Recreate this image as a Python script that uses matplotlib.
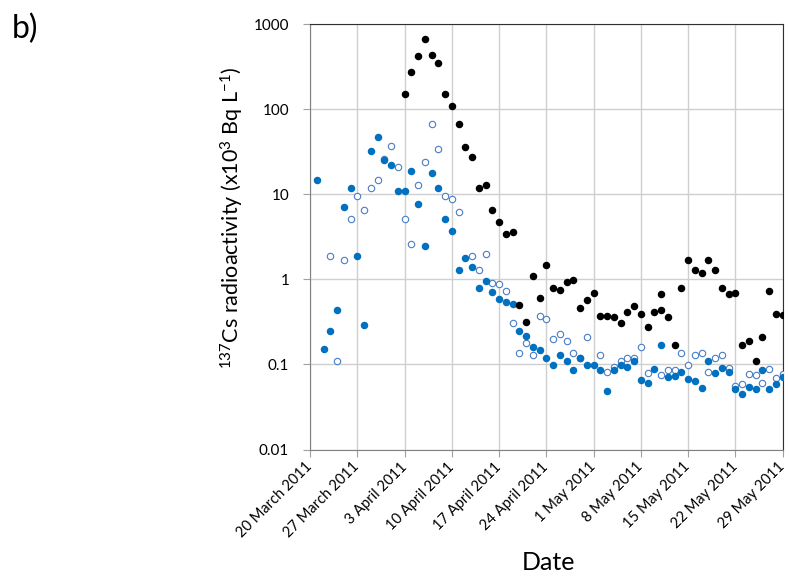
import numpy as np
import matplotlib
matplotlib.use("Agg")
import matplotlib.pyplot as plt
import matplotlib.dates as mdates
import datetime as dt

plt.rcParams['font.family'] = ['Lato', 'DejaVu Sans']

# day offsets from 20 March 2011
start = dt.datetime(2011, 3, 20)

black_days = [14, 15, 16, 17, 18, 19, 20, 21, 22, 23, 24, 25, 26, 27, 28, 29, 30,
              31, 32, 33, 34, 35, 36, 37, 38, 39, 40, 41, 42, 43, 44, 45, 46, 47,
              48, 49, 50, 51, 52, 52, 53, 54, 55, 56, 57, 58, 59, 60, 61, 62, 63,
              64, 65, 66, 67, 68, 69, 70]
black_vals = [151, 272, 424, 666, 438, 351, 151, 109, 67, 35.7, 27.7, 12.0, 13.0,
              6.5, 4.76, 3.41, 3.6, 0.50, 0.317, 1.09, 0.60, 1.49, 0.80, 0.75, 0.94,
              0.99, 0.456, 0.575, 0.70, 0.373, 0.373, 0.357, 0.306, 0.416, 0.489,
              0.391, 0.277, 0.416, 0.432, 0.678, 0.36, 0.169, 0.79, 1.69, 1.29, 1.19,
              1.69, 1.29, 0.80, 0.68, 0.70, 0.169, 0.188, 0.109, 0.209, 0.728,
              0.391, 0.377]

filled_days = list(range(1, 71))
filled_vals = [14.7, 0.151, 0.247, 0.435, 7.1, 12.0, 1.9, 0.29, 32, 47, 25.3, 21.9,
               10.9, 10.9, 19.0, 7.8, 2.48, 17.9, 12.0, 5.08, 3.7, 1.29, 1.8, 1.40,
               0.80, 0.955, 0.72, 0.59, 0.54, 0.51, 0.248, 0.219, 0.16, 0.149,
               0.119, 0.099, 0.129, 0.109, 0.087, 0.119, 0.099, 0.099, 0.086,
               0.0485, 0.085, 0.099, 0.094, 0.109, 0.065, 0.060, 0.088, 0.169,
               0.071, 0.073, 0.081, 0.067, 0.0637, 0.0526, 0.109, 0.079, 0.092,
               0.081, 0.051, 0.0448, 0.054, 0.051, 0.085, 0.051, 0.059, 0.072]

open_days = [3, 4, 5, 6, 7, 8, 9, 10, 11, 12, 13, 14, 15, 16, 17, 18, 19, 20, 21,
             22, 24, 25, 26, 27, 28, 29, 30, 31, 32, 33, 34, 35, 36, 37, 38, 39,
             40, 41, 43, 44, 45, 46, 47, 48, 49, 50, 52, 53, 54, 55, 56, 57, 58,
             59, 60, 61, 62, 63, 64, 65, 66, 67, 68, 69, 70]
open_vals = [1.9, 0.109, 1.69, 5.1, 9.7, 6.5, 12.0, 14.9, 26.2, 37, 21, 5.1, 2.6,
             12.9, 24, 67.7, 33.8, 9.7, 8.8, 6.2, 1.9, 1.29, 2.0, 0.91, 0.88, 0.73,
             0.306, 0.138, 0.178, 0.129, 0.367, 0.341, 0.2, 0.227, 0.188, 0.138,
             0.12, 0.209, 0.129, 0.082, 0.093, 0.11, 0.12, 0.12, 0.16, 0.079,
             0.075, 0.086, 0.085, 0.138, 0.099, 0.129, 0.138, 0.081, 0.119, 0.129,
             0.092, 0.056, 0.059, 0.077, 0.075, 0.060, 0.088, 0.0695, 0.078]


def to_dates(days):
    return [start + dt.timedelta(days=d) for d in days]


fig = plt.figure(figsize=(7.89, 5.76), dpi=100)
ax = fig.add_axes([0.393, 0.2196, 0.5988, 0.7382])

blue = '#0070C0'
ax.plot(to_dates(open_days), open_vals, 'o', ms=4.6, mfc='white', mec='#4A7DC4',
        mew=0.8, zorder=3)
ax.plot(to_dates(filled_days), filled_vals, 'o', ms=4.4, color=blue, mec=blue,
        zorder=4)
ax.plot(to_dates(black_days), black_vals, 'o', ms=4.4, color='black', zorder=5)

ax.set_yscale('log')
ax.set_ylim(0.01, 1000)
ax.set_xlim(start, start + dt.timedelta(days=70))

yt = [0.01, 0.1, 1, 10, 100, 1000]
ax.set_yticks(yt)
ax.set_yticklabels(['0.01', '0.1', '1', '10', '100', '1000'])
ax.yaxis.set_minor_locator(matplotlib.ticker.NullLocator())

xt = to_dates(range(0, 71, 7))
ax.set_xticks(xt)
ax.set_xticklabels([d.strftime('%-d %B %Y') for d in xt], rotation=45,
                   ha='right', va='center', rotation_mode='anchor', fontsize=10.5)
ax.tick_params(axis='y', labelsize=11, length=5, color='#A0A0A0', pad=10)
ax.tick_params(axis='x', length=5, color='#A0A0A0', pad=6)

ax.grid(True, which='major', color='#CFCFCF', lw=1)
ax.set_axisbelow(True)
for s in ['top', 'right']:
    ax.spines[s].set_color('#303030')
for s in ['left', 'bottom']:
    ax.spines[s].set_color('#808080')

fig.text(0.294, 0.622, '$\\mathregular{^{137}}$Cs radioactivity (x10$\\mathregular{^{3}}$ Bq L$\\mathregular{^{-1}}$)',
         rotation=90, ha='center', va='center', fontsize=15.5)
fig.text(0.695, 0.024, 'Date', ha='center', va='center', fontsize=18)
fig.text(0.015, 0.95, 'b)', ha='left', va='center', fontsize=23)

fig.savefig('out.png', dpi=100)
